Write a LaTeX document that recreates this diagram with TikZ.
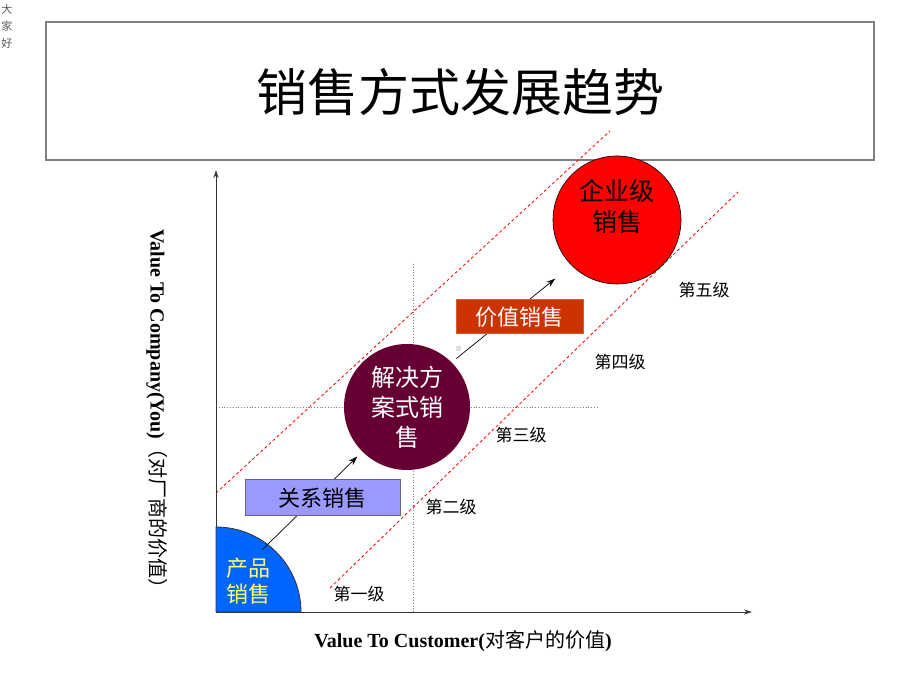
\documentclass[tikz,border=0pt]{standalone}
\usepackage{fontspec}
\setmainfont{Liberation Serif}
\newfontfamily\cjk{Noto Sans CJK SC}
\usetikzlibrary{arrows.meta}
\definecolor{cpblue}{RGB}{0,102,255}
\definecolor{cpyellow}{RGB}{255,255,102}
\definecolor{gxlav}{RGB}{153,153,255}
\definecolor{jjmaroon}{RGB}{102,0,51}
\definecolor{jzorange}{RGB}{204,51,0}
\tikzset{
  stagebox/.style={draw=gray!80!black,line width=1pt,inner sep=0pt},
  stagefont/.style={font=\cjk\fontsize{22}{26}\selectfont},
  levellabel/.style={font=\cjk\fontsize{17}{19}\selectfont},
  reddash/.style={red,line width=0.8pt,dash pattern=on 3pt off 2.5pt},
  guide/.style={gray,line width=0.8pt,dotted},
  flow/.style={-{Stealth[length=9pt,width=6pt]},line width=0.7pt}
}
\begin{document}
\begin{tikzpicture}[x=1pt,y=1pt]
  \useasboundingbox (0,0) rectangle (920,690);
  % 角上的小字
  \node[font=\cjk\fontsize{11}{17}\selectfont,text=gray!70!black,align=center,inner sep=0pt] (hello) at (7,664) {大\\家\\好};
  % 标题
  \draw[gray,line width=1.5pt] (46,530) rectangle (874,668);
  \node[font=\cjk\fontsize{51}{56}\selectfont] (title) at (460,598) {销售方式发展趋势};
  % 辅助线
  \draw[guide] (413,78) -- (413,428);
  \draw[guide] (216,283) -- (598,283);
  % 红色虚线
  \draw[reddash] (216,197) -- (610,559);
  \draw[reddash] (330,102) -- (738,498);
  % 坐标轴
  \coordinate (o) at (216,78);
  \coordinate (ytop) at (216,520);
  \coordinate (xend) at (752,78);
  \draw[-{Stealth[length=8pt,width=5pt]},line width=0.8pt,black!80] (o) -- (ytop);
  \draw[-{Stealth[length=8pt,width=5pt]},line width=0.8pt,black!80] (o) -- (xend);
  % 产品销售（四分之一圆）
  \filldraw[fill=cpblue,draw=black!80,line width=0.8pt] (o) -- (301,78) arc[start angle=0,end angle=90,radius=85] -- cycle;
  \node[stagefont,text=cpyellow,align=center] (cp) at (248,109) {产品\\销售};
  \coordinate (cpedge) at (262,140);
  % 解决方案式销售
  \node[circle,fill=jjmaroon,minimum size=126pt,inner sep=0pt,text=white,align=center,
        font=\cjk\fontsize{24}{30}\selectfont] (jj) at (407,283) {解决方\\案式销\\售};
  % 企业级销售
  \node[circle,fill=red,draw=black,line width=0.6pt,minimum size=128pt,inner sep=0pt] (qy) at (617,470) {};
  \node[font=\cjk\fontsize{25}{31}\selectfont,align=center] (qytext) at (617,484) {企业级\\销售};
  % 箭头
  \draw[flow,shorten >=7pt] (cpedge) -- (jj.225);
  \draw[flow,shorten <=6pt,shorten >=21pt] (jj.45) -- (qy.225);
  % 关系销售、价值销售
  \node[stagebox,stagefont,fill=gxlav,minimum width=155pt,minimum height=36pt] (gx) at (322.5,192) {关系销售};
  \node[stagebox,stagefont,fill=jzorange,draw=jzorange!80!white,text=white,minimum width=127pt,minimum height=34pt] (jz) at (519.5,373) {价值销售};
  \fill[gray!25] (456,339) rectangle (461,344);
  % 级别
  \node[levellabel] (l1) at (359,96) {第一级};
  \node[levellabel] (l2) at (451,183) {第二级};
  \node[levellabel] (l3) at (521,255) {第三级};
  \node[levellabel] (l4) at (620,328) {第四级};
  \node[levellabel] (l5) at (704,400) {第五级};
  % 坐标轴标注
  \node[font=\fontsize{20}{22}\selectfont] (xlabel) at (463,49) {\textbf{Value To Customer(}{\cjk 对客户的价值}\textbf{)}};
  \node[font=\fontsize{20}{22}\selectfont,rotate=-90] (ylabel) at (157,276) {\textbf{Value To Company(You)}{\cjk （对厂商的价值）}};
\end{tikzpicture}
\end{document}
